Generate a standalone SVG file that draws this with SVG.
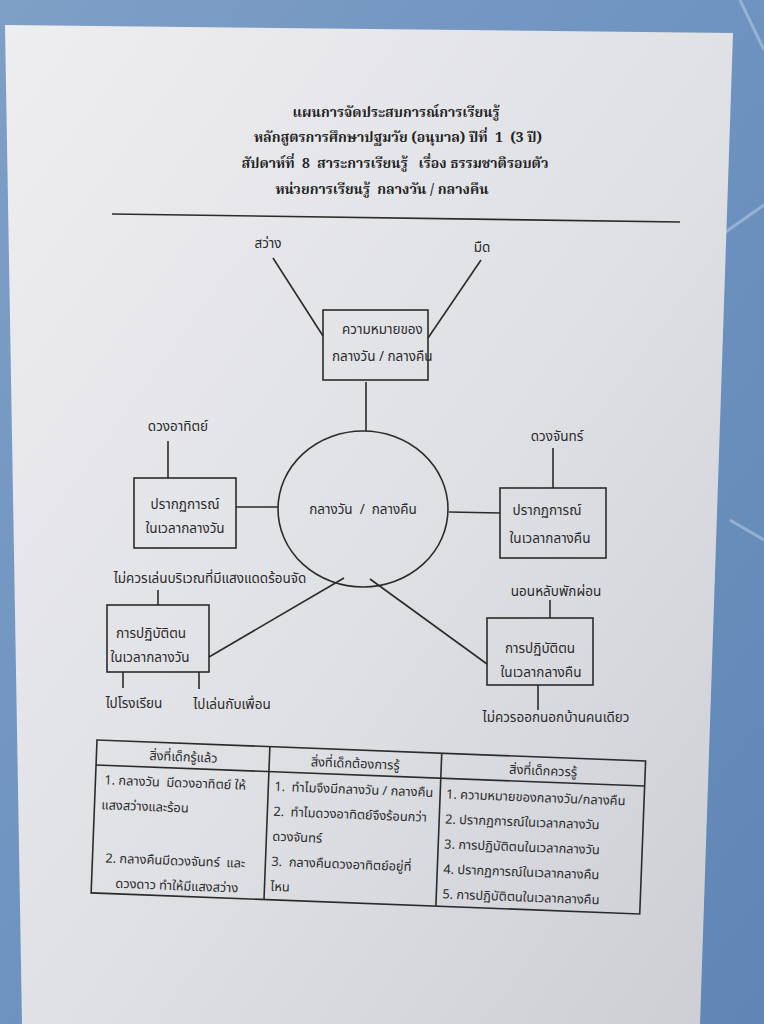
<svg xmlns="http://www.w3.org/2000/svg" width="764" height="1024" viewBox="0 0 764 1024">
<defs>
<linearGradient id="bg" x1="0" y1="0" x2="1" y2="1">
<stop offset="0" stop-color="#7e9fc6"/><stop offset="0.5" stop-color="#6e93c0"/><stop offset="1" stop-color="#5f86b5"/>
</linearGradient>
<linearGradient id="paper" x1="0" y1="0" x2="1" y2="1">
<stop offset="0" stop-color="#eeeef1"/><stop offset="0.55" stop-color="#dfe0e4"/><stop offset="1" stop-color="#cdced4"/>
</linearGradient>
<style>
.ln{stroke:#2b2b2b;stroke-width:1.6;fill:none}
.bx{stroke:#2b2b2b;stroke-width:1.6;fill:none}
.t{font-family:"Noto Sans Thai","Noto Serif Thai","Liberation Serif",serif;font-size:13.5px;fill:#2a2a2a;white-space:pre}
.s{font-size:12.8px}
.c{text-anchor:middle}
.h{font-family:"Noto Serif Thai","Noto Sans Thai","Liberation Serif",serif;font-size:14px;font-weight:bold;fill:#222;text-anchor:middle;white-space:pre}
</style>
</defs>
<rect x="0" y="0" width="764" height="1024" fill="url(#bg)"/>
<g stroke="#a9c0dc" stroke-width="3" opacity="0.7" fill="none">
<path d="M700 250 L764 205"/><path d="M730 520 L764 540"/><path d="M740 0 L764 50"/>
</g>
<polygon points="5,25 733,33 700,1024 22,1024" fill="url(#paper)"/>

<g id="title">
<text class="h" x="396" y="117">แผนการจัดประสบการณ์การเรียนรู้</text>
<text class="h" x="398" y="142">หลักสูตรการศึกษาปฐมวัย (อนุบาล) ปีที่  1  (3 ปี)</text>
<text class="h" x="395" y="168">สัปดาห์ที่  8  สาระการเรียนรู้   เรื่อง ธรรมชาติรอบตัว</text>
<text class="h" x="382" y="194">หน่วยการเรียนรู้  กลางวัน / กลางคืน</text>
</g>
<line class="ln" x1="112" y1="214" x2="680" y2="222"/>

<g id="connectors">
<line class="ln" x1="273" y1="258" x2="323" y2="336"/>
<line class="ln" x1="481" y1="260" x2="428" y2="338"/>
<line class="ln" x1="366" y1="382" x2="366" y2="431"/>
<line class="ln" x1="168" y1="441" x2="168" y2="478"/>
<line class="ln" x1="236" y1="507" x2="278" y2="507"/>
<line class="ln" x1="553" y1="448" x2="553" y2="488"/>
<line class="ln" x1="449" y1="512" x2="500" y2="513"/>
<line class="ln" x1="158" y1="590" x2="158" y2="605"/>
<line class="ln" x1="209" y1="657" x2="344" y2="578"/>
<line class="ln" x1="123" y1="672" x2="123" y2="688"/>
<line class="ln" x1="199" y1="672" x2="199" y2="689"/>
<line class="ln" x1="370" y1="579" x2="487" y2="664"/>
<line class="ln" x1="550" y1="600" x2="550" y2="618"/>
<line class="ln" x1="538" y1="685" x2="538" y2="710"/>
</g>

<g id="center">
<ellipse class="bx" cx="363" cy="509" rx="85" ry="78"/>
<text class="t c" x="363" y="514">กลางวัน  /  กลางคืน</text>
</g>
<g id="meaning">
<rect class="bx" x="323" y="310" width="105" height="70"/>
<text class="t" x="342" y="334">ความหมายของ</text>
<text class="t" x="332" y="361">กลางวัน / กลางคืน</text>
</g>
<g id="label-light"><text class="t c" x="268" y="248">สว่าง</text></g>
<g id="label-dark"><text class="t c" x="482" y="252">มืด</text></g>
<g id="day-phen">
<rect class="bx" x="134" y="478" width="102" height="70"/>
<text class="t c" x="185" y="509">ปรากฏการณ์</text>
<text class="t c" x="185" y="533">ในเวลากลางวัน</text>
</g>
<g id="label-sun"><text class="t c" x="178" y="431">ดวงอาทิตย์</text></g>
<g id="night-phen">
<rect class="bx" x="500" y="488" width="106" height="70"/>
<text class="t c" x="547" y="515">ปรากฏการณ์</text>
<text class="t c" x="550" y="543">ในเวลากลางคืน</text>
</g>
<g id="label-moon"><text class="t c" x="557" y="441">ดวงจันทร์</text></g>
<g id="day-practice">
<rect class="bx" x="107" y="605" width="102" height="67"/>
<text class="t c" x="151" y="638">การปฏิบัติตน</text>
<text class="t c" x="150" y="662">ในเวลากลางวัน</text>
</g>
<g id="label-nosun"><text class="t c" x="210" y="583">ไม่ควรเล่นบริเวณที่มีแสงแดดร้อนจัด</text></g>
<g id="label-school"><text class="t c" x="134" y="708">ไปโรงเรียน</text></g>
<g id="label-friends"><text class="t c" x="232" y="709">ไปเล่นกับเพื่อน</text></g>
<g id="night-practice">
<rect class="bx" x="487" y="618" width="106" height="67"/>
<text class="t c" x="540" y="653">การปฏิบัติตน</text>
<text class="t c" x="541" y="677">ในเวลากลางคืน</text>
</g>
<g id="label-sleep"><text class="t c" x="556" y="596">นอนหลับพักผ่อน</text></g>
<g id="label-alone"><text class="t c" x="556" y="722">ไม่ควรออกนอกบ้านคนเดียว</text></g>

<g id="table" transform="rotate(2.2 97 740)">
<rect class="bx" x="97" y="740" width="549" height="153"/>
<line class="ln" x1="97" y1="765" x2="646" y2="765"/>
<line class="ln" x1="270" y1="740" x2="270" y2="893"/>
<line class="ln" x1="442" y1="740" x2="442" y2="893"/>
<text class="t s c" x="184" y="758">สิ่งที่เด็กรู้แล้ว</text>
<text class="t s c" x="356" y="758">สิ่งที่เด็กต้องการรู้</text>
<text class="t s c" x="544" y="758">สิ่งที่เด็กควรรู้</text>
<text class="t s" x="106" y="784">1. กลางวัน  มีดวงอาทิตย์ ให้</text>
<text class="t s" x="104" y="809">แสงสว่างและร้อน</text>
<text class="t s" x="110" y="862">2. กลางคืนมีดวงจันทร์  และ</text>
<text class="t s" x="121" y="887">ดวงดาว ทำให้มีแสงสว่าง</text>
<text class="t s" x="276" y="784">1.  ทำไมจึงมีกลางวัน / กลางคืน</text>
<text class="t s" x="276" y="809">2.  ทำไมดวงอาทิตย์จึงร้อนกว่า</text>
<text class="t s" x="276" y="834">ดวงจันทร์</text>
<text class="t s" x="276" y="859">3.  กลางคืนดวงอาทิตย์อยู่ที่</text>
<text class="t s" x="276" y="884">ไหน</text>
<text class="t s" x="448" y="785">1. ความหมายของกลางวัน/กลางคืน</text>
<text class="t s" x="448" y="810">2. ปรากฏการณ์ในเวลากลางวัน</text>
<text class="t s" x="448" y="835">3. การปฏิบัติตนในเวลากลางวัน</text>
<text class="t s" x="448" y="860">4. ปรากฏการณ์ในเวลากลางคืน</text>
<text class="t s" x="448" y="885">5. การปฏิบัติตนในเวลากลางคืน</text>
</g>
</svg>
